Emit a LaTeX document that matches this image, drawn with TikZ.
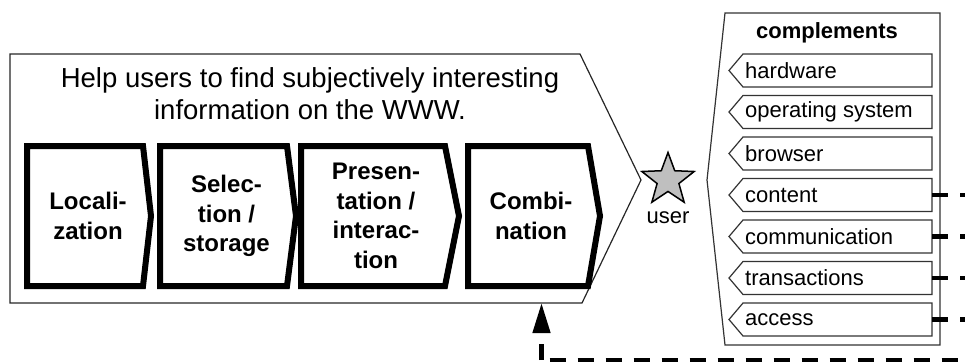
\documentclass[tikz,border=0pt]{standalone}
\usepackage{fontspec}
\setmainfont{Liberation Sans}
\usetikzlibrary{arrows.meta, positioning, shapes.geometric}

\begin{document}
\begin{tikzpicture}[
  x=1pt, y=-1pt,
  outerbox/.style={draw=black!85, line width=1.2pt, line join=miter},
  stepbox/.style={draw, line width=6pt, line join=miter, miter limit=20},
  steplabel/.style={align=center, inner sep=0pt, font=\fontsize{24}{29.5}\selectfont\bfseries},
  panel/.style={draw=black!80, line width=1.2pt},
  itembox/.style={draw=black!80, line width=1.2pt},
  itemtext/.style={anchor=west, inner sep=0pt, font=\fontsize{22}{26}\selectfont},
  feed/.style={line width=4.5pt, dash pattern=on 16pt off 12pt},
  userstar/.style={star, star points=5, star point ratio=2.4, minimum size=55pt, inner sep=0pt, draw, line width=1.5pt, fill=black!25}
]
\useasboundingbox (0,0) rectangle (965,361);

% goal
\draw[outerbox] (10,54) -- (580,54) -- (641,180) -- (582,303) -- (10,303) -- cycle;
\node[align=center, font=\fontsize{27.5}{32}\selectfont] (goal) at (310,94) {Help users to find subjectively interesting\\information on the WWW.};

% value chain steps
\foreach \xa/\xb/\xc/\n/\txt in {27/143/151/loc/{Locali-\\zation},
                                 160/287/296/sel/{Selec-\\tion /\\storage},
                                 301/445/459/pres/{Presen-\\tation /\\interac-\\tion},
                                 468/588/600/comb/{Combi-\\nation}}
{
  \draw[stepbox] (\xa,146) -- (\xb,146) -- (\xc,216) -- (\xb,286) -- (\xa,286) -- cycle;
  \node[steplabel] (\n) at ({(\xa+\xb)/2+3},216) {\txt};
}

% user
\node[userstar] (user) at (668,180) {};
\node[font=\fontsize{22}{26}\selectfont] (userlbl) at (668,218) {user};

% complements
\draw[panel] (725,13) -- (940,13) -- (940,345) -- (725,345) -- (707,180) -- cycle;
\node[font=\fontsize{22}{26}\selectfont\bfseries] (compl) at (827,33) {complements};
\foreach \n/\txt [count=\i from 0] in {hw/hardware, os/operating system, br/browser,
                                       ct/content, cm/communication, tr/transactions, ac/access}
{
  \pgfmathsetmacro\yt{54+41.5*\i}
  \draw[itembox] (743,\yt) -- (932,\yt) -- (932,\yt+33) -- (743,\yt+33) -- (729,\yt+16.5) -- cycle;
  \node[itemtext] (\n) at (745,\yt+16.5) {\txt};
  \coordinate (\n-e) at (932,\yt+16.5);
}

% feedback
\coordinate (bus) at (985,360);
\coordinate (tip) at (541.5,303);
\foreach \n in {ct,cm,tr,ac}
  \draw[feed] (\n-e) -- (\n-e -| bus);
\draw[feed, dash phase=20pt] (bus -| tip) -- (bus);
\draw[feed, -{Triangle[length=30pt, width=17pt]}] (bus -| tip) -- (tip);
\end{tikzpicture}
\end{document}
